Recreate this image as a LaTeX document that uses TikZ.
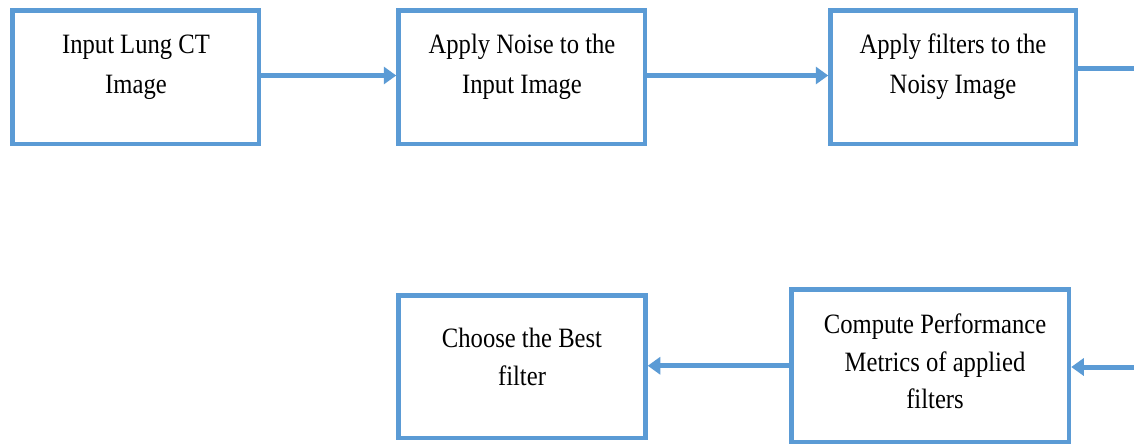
\documentclass[tikz,border=0pt]{standalone}
\usepackage{fontspec}
\setmainfont{Liberation Serif}[FakeStretch=0.88]
\usetikzlibrary{arrows.meta}
\definecolor{boxblue}{HTML}{5B9BD5}
\tikzset{
  stepbox/.style={draw=boxblue, line width=4.5pt, rectangle, inner sep=0pt},
  steptext/.style={anchor=north, inner sep=0pt, align=center, text=black,
    font=\fontsize{28}{37.5}\selectfont},
  toptext/.style={steptext, font=\fontsize{28}{39.5}\selectfont},
  arr/.style={draw=boxblue, line width=5pt, -{Triangle[length=12.5pt,width=17pt]}},
  plain/.style={draw=boxblue, line width=5pt}
}
\begin{document}
\begin{tikzpicture}[x=1pt,y=-1pt]
\useasboundingbox[fill=white] (0,0) rectangle (1134,445);
% boxes
\node[stepbox, minimum width=246.5pt, minimum height=133.5pt] (b1) at (135.75,77.25) {};
\node[stepbox, minimum width=246.5pt, minimum height=133.5pt] (b2) at (521.75,77.25) {};
\node[stepbox, minimum width=245.5pt, minimum height=133.5pt] (b3) at (953.25,77.25) {};
\node[stepbox, minimum width=247pt, minimum height=142.5pt] (b4) at (522,366.75) {};
\node[stepbox, minimum width=277.5pt, minimum height=152.5pt] (b5) at (930.25,365.75) {};
% texts
\node[toptext] (t1) at (136,35) {Input Lung CT\\Image};
\node[toptext] (t2) at (522,34) {Apply Noise to the\\Input Image};
\node[toptext] (t3) at (953,34) {Apply filters to the\\Noisy Image};
\node[steptext] (t4) at (522,328) {Choose the Best\\filter};
\node[steptext] (t5) at (935,314) {Compute Performance\\Metrics of applied\\filters};
% free ends at the right border
\coordinate (outR) at (1134,68);
\coordinate (inR) at (1134,367);
% connectors
\draw[arr] (b1.east |- 0,75.5) -- (b2.west |- 0,75.5);
\draw[arr] (b2.east |- 0,75.5) -- (b3.west |- 0,75.5);
\draw[plain] (outR -| b3.east) -- (outR);
\draw[arr] (inR) -- (inR -| b5.east);
\draw[arr] (b5.west) -- (b5.west -| b4.east);
\end{tikzpicture}
\end{document}
